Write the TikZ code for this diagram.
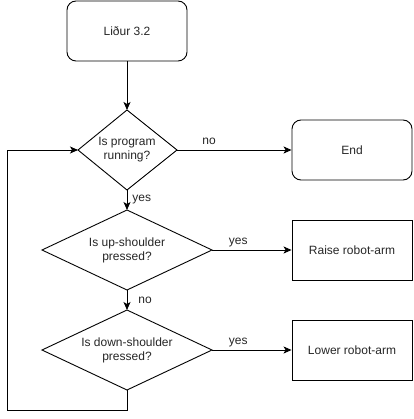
\documentclass[tikz,border=0pt]{standalone}
\usepackage{fontspec}
\setmainfont{Liberation Sans}
\usetikzlibrary{shapes.geometric,arrows.meta}
\begin{document}
\begin{tikzpicture}[x=1pt,y=-1pt,
  every node/.style={font=\fontsize{12}{14}\selectfont, text=black!85},
  base/.style={draw, line width=0.9pt, align=center, inner sep=0pt},
  roundbox/.style={base, rounded corners=9pt, minimum width=120pt, minimum height=60pt},
  actionbox/.style={base, minimum width=120pt, minimum height=60pt},
  shape line/.style={draw, line width=0.9pt},
  flow/.style={line width=0.9pt, -{Stealth[length=8pt,width=7pt,inset=2pt]}},
  lbl/.style={inner sep=1pt}]
\useasboundingbox (0,0) rectangle (413,419);

% start and end
\node[roundbox] (start) at (127,31) {Liður 3.2};
\node[roundbox] (end) at (352,150) {End};

% decision: program running
\path[shape line] (78,150) -- (127,110) -- (177,150) -- (127,190) -- cycle;
\coordinate (runN) at (127,110);
\coordinate (runS) at (127,190);
\coordinate (runE) at (177,150);
\coordinate (runW) at (78,150);
\node[align=center] (run) at (127,150) {Is program\\running?};

% decision: up-shoulder
\path[shape line] (42,250) -- (127,210) -- (212,250) -- (127,290) -- cycle;
\coordinate (upN) at (127,210);
\coordinate (upS) at (127,290);
\coordinate (upE) at (212,250);
\node[align=center] (up) at (127,250) {Is up-shoulder\\pressed?};
\node[actionbox] (raise) at (352,250) {Raise robot-arm};

% decision: down-shoulder
\path[shape line] (42,350) -- (127,310) -- (212,350) -- (127,390) -- cycle;
\coordinate (dnN) at (127,310);
\coordinate (dnS) at (127,390);
\coordinate (dnE) at (212,350);
\node[align=center] (dn) at (127,350) {Is down-shoulder\\pressed?};
\node[actionbox] (lower) at (352,350) {Lower robot-arm};

% loop back corners
\coordinate (loopA) at (127,410);
\coordinate (loopB) at (7,410);
\coordinate (loopC) at (7,150);

\draw[flow] (start.south) -- (runN);
\draw[flow] (runE) -- (end.west) node[lbl, pos=0.28, above=4pt] {no};
\draw[flow] (runS) -- (upN) node[lbl, midway, right=4pt] {yes};
\draw[flow] (upE) -- (raise.west) node[lbl, pos=0.33, above=2pt] {yes};
\draw[flow] (upS) -- (dnN) node[lbl, midway, right=10pt] {no};
\draw[flow] (dnE) -- (lower.west) node[lbl, pos=0.33, above=2pt] {yes};
\draw[flow] (dnS) -- (loopA) -- (loopB) -- (loopC) -- (runW);
\end{tikzpicture}
\end{document}
